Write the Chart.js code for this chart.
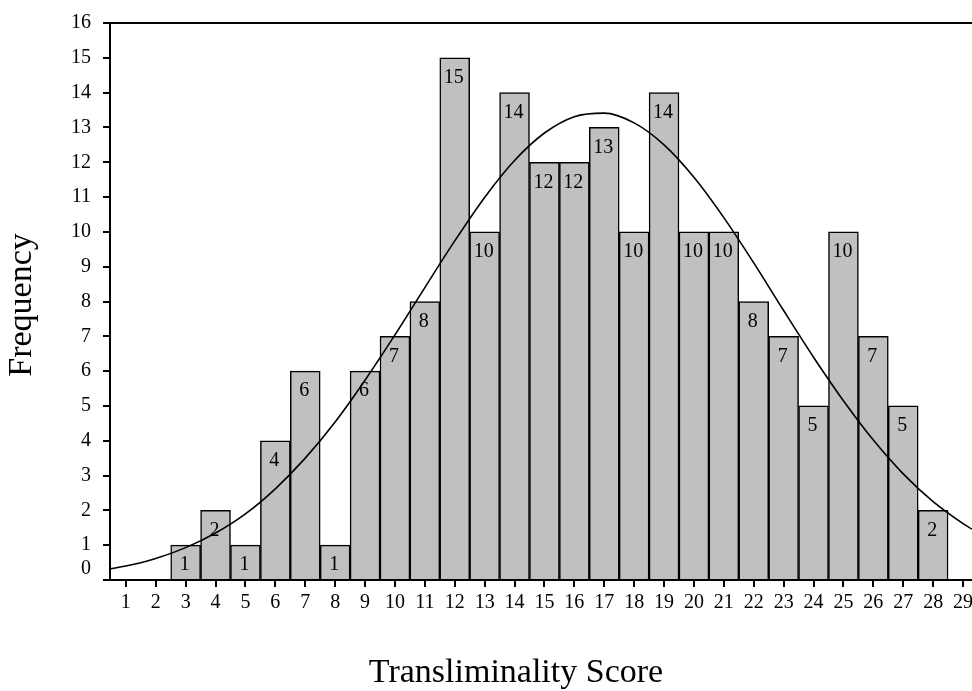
<!DOCTYPE html>
<html>
<head>
<meta charset="utf-8">
<script src="https://cdn.jsdelivr.net/npm/chart.js@4/dist/chart.umd.min.js"></script>
<style>
html,body{margin:0;padding:0;background:#fff;}
#wrap{width:972px;height:691px;}
</style>
</head>
<body>
<div id="wrap"><canvas id="c" width="972" height="691"></canvas></div>
<script>
// ---- data ----
const scores = [3,4,5,6,7,8,9,10,11,12,13,14,15,16,17,18,19,20,21,22,23,24,25,26,27,28];
const frequencies = [1,2,1,4,6,1,6,7,8,15,10,14,12,12,13,10,14,10,10,8,7,5,10,7,5,2];
const xTickValues = [1,2,3,4,5,6,7,8,9,10,11,12,13,14,15,16,17,18,19,20,21,22,23,24,25,26,27,28,29];
const yTickValues = [0,1,2,3,4,5,6,7,8,9,10,11,12,13,14,15,16];
const curveX = [0.47,1,2,3,4,5,6,7,8,9,10,11,12,13,14,15,16,17,18,19,20,21,22,23,24,25,26,27,28,29,29.3];
const curveY = [0.32,0.40,0.62,0.93,1.35,1.90,2.62,3.50,4.54,5.74,7.04,8.40,9.74,10.99,12.05,12.84,13.31,13.41,13.13,12.50,11.57,10.41,9.11,7.74,6.40,5.15,4.02,3.05,2.25,1.62,1.46];
const xTitle = 'Transliminality Score';
const yTitle = 'Frequency';

Chart.defaults.font.family = "'Liberation Serif', 'Times New Roman', serif";
Chart.defaults.font.size = 20;
Chart.defaults.color = '#000';

const barData = scores.map((s, i) => ({x: s, y: frequencies[i]}));
const curveData = curveX.map((x, i) => ({x: x, y: curveY[i]}));

const extrasPlugin = {
  id: 'extras',
  afterDatasetsDraw(chart) {
    const ctx = chart.ctx;
    const ys = chart.scales.y;
    const area = chart.chartArea;
    ctx.save();
    // value labels inside bars
    ctx.fillStyle = '#000';
    ctx.font = "20px 'Liberation Serif', serif";
    ctx.textAlign = 'center';
    ctx.textBaseline = 'middle';
    const meta = chart.getDatasetMeta(1);
    meta.data.forEach((bar, i) => {
      ctx.fillText(String(frequencies[i]), bar.x - 1, bar.y + 20);
    });
    // top frame line
    ctx.strokeStyle = '#000';
    ctx.lineWidth = 2;
    ctx.beginPath();
    const yTop = ys.getPixelForValue(16);
    ctx.moveTo(area.left - 7, yTop);
    ctx.lineTo(area.right, yTop);
    ctx.stroke();
    // raised zero label
    ctx.textAlign = 'right';
    ctx.fillText('0', area.left - 19, ys.getPixelForValue(0) - 11);
    // axis titles
    ctx.font = "34px 'Liberation Serif', serif";
    ctx.textAlign = 'center';
    ctx.fillText(xTitle, 516, 673);
    ctx.translate(22, 305);
    ctx.rotate(-Math.PI / 2);
    ctx.fillText(yTitle, 0, 0);
    ctx.restore();
  }
};

new Chart(document.getElementById('c'), {
  type: 'bar',
  data: {
    datasets: [
      {
        type: 'line',
        data: curveData,
        borderColor: '#000',
        borderWidth: 1.6,
        pointRadius: 0,
        fill: false,
        tension: 0.4,
        cubicInterpolationMode: 'monotone',
        order: 0
      },
      {
        type: 'bar',
        data: barData,
        backgroundColor: '#c0c0c0',
        borderColor: '#000',
        borderWidth: 1.5,
        borderSkipped: 'start',
        barPercentage: 1,
        categoryPercentage: 1,
        order: 1
      }
    ]
  },
  options: {
    responsive: false,
    animation: false,
    events: [],
    layout: { padding: { top: 23, right: 0, left: 0, bottom: 0 } },
    plugins: { legend: { display: false }, tooltip: { enabled: false } },
    scales: {
      x: {
        type: 'linear',
        offset: false,
        min: 0.47,
        max: 29.3,
        afterBuildTicks: (s) => { s.ticks = xTickValues.map(v => ({value: v})); },
        afterFit: (s) => { s.height = 111; s.paddingRight = 0; s.paddingLeft = 0; },
        grid: { offset: false, drawOnChartArea: false, drawTicks: true, tickLength: 7, color: '#000', lineWidth: 2 },
        border: { display: true, color: '#000', width: 2 },
        ticks: { autoSkip: false, maxRotation: 0, padding: 4, color: '#000' }
      },
      y: {
        type: 'linear',
        min: 0,
        max: 16,
        afterBuildTicks: (s) => { s.ticks = yTickValues.map(v => ({value: v})); },
        afterFit: (s) => { s.width = 110; s.paddingTop = 0; s.paddingBottom = 0; },
        grid: { drawOnChartArea: false, drawTicks: true, tickLength: 7, color: '#000', lineWidth: 2 },
        border: { display: true, color: '#000', width: 2 },
        ticks: { padding: 12, color: '#000', callback: (v) => (v === 0 ? '' : String(v)) }
      }
    }
  },
  plugins: [extrasPlugin]
});
</script>
</body>
</html>
